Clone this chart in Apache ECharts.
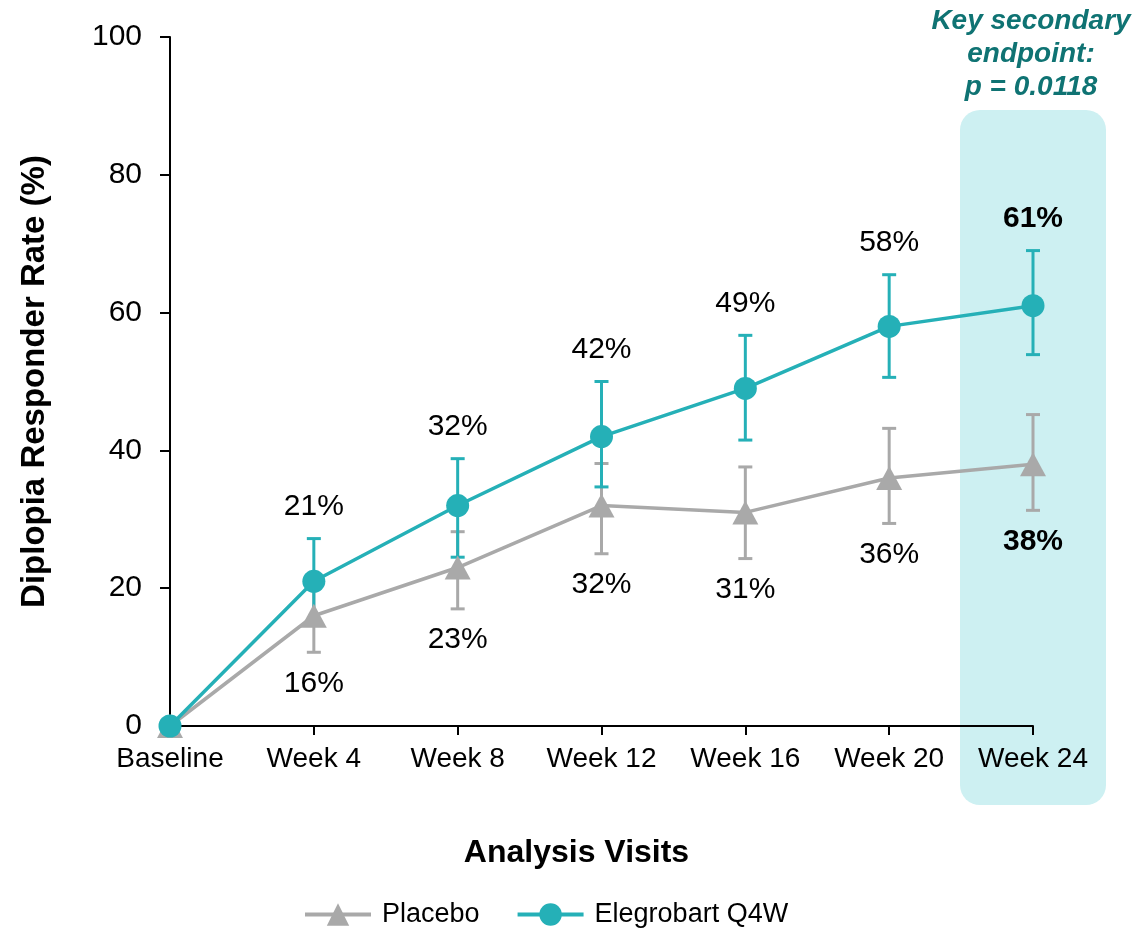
<!DOCTYPE html>
<html>
<head>
<meta charset="utf-8">
<script src="https://cdn.jsdelivr.net/npm/echarts@6/dist/echarts.min.js"></script>
<style>
  html, body { margin: 0; padding: 0; background: #fff; }
  #chart { width: 1136px; height: 934px; }
</style>
</head>
<body>
<div id="chart"></div>
<script>
// Visits and responder rates (%)
const visits = ['Baseline', 'Week 4', 'Week 8', 'Week 12', 'Week 16', 'Week 20', 'Week 24'];
const yTicks = [0, 20, 40, 60, 80, 100];

const placeboRate = [0, 16, 23, 32, 31, 36, 38];
const placeboLow  = [0, 10.7, 17.0, 25.0, 24.3, 29.4, 31.3];
const placeboHigh = [0, 20.7, 28.2, 38.1, 37.6, 43.2, 45.2];

const elegroRate = [0, 21, 32, 42, 49, 58, 61];
const elegroLow  = [0, 15.2, 24.5, 34.7, 41.5, 50.6, 53.9];
const elegroHigh = [0, 27.2, 38.8, 50.0, 56.7, 65.5, 69.0];

const keyNote = ['Key secondary', 'endpoint:', 'p = 0.0118'];

const FONT = '"Liberation Sans", Arial, sans-serif';
const TEAL = '#25b0b7';
const GREY = '#a9a9a9';
const HILITE = '#cdf0f2';
const NOTE = '#0f7373';

function errorData(low, high, rate) {
  return visits.map((v, i) => [i, low[i], high[i], rate[i]]).filter(d => d[0] > 0);
}

// Error bar with caps, plus the value label beyond the outer cap
function errorRenderer(color, labelAbove) {
  return function (params, api) {
    const idx = api.value(0);
    const lo = api.coord([idx, api.value(1)]);
    const hi = api.coord([idx, api.value(2)]);
    const cap = 7;
    const style = { stroke: color, lineWidth: 3 };
    const isLast = idx === visits.length - 1;
    const anchor = labelAbove ? hi[1] - 32 : lo[1] + 31;
    return {
      type: 'group',
      children: [
        { type: 'line', shape: { x1: lo[0], y1: lo[1], x2: hi[0], y2: hi[1] }, style },
        { type: 'line', shape: { x1: hi[0] - cap, y1: hi[1], x2: hi[0] + cap, y2: hi[1] }, style },
        { type: 'line', shape: { x1: lo[0] - cap, y1: lo[1], x2: lo[0] + cap, y2: lo[1] }, style },
        {
          type: 'text',
          style: {
            text: Math.round(api.value(3)) + '%',
            x: hi[0], y: anchor,
            align: 'center', verticalAlign: 'middle',
            fontSize: 30, fontFamily: FONT,
            fontWeight: isLast ? 'bold' : 'normal',
            fill: '#000'
          }
        }
      ]
    };
  };
}

const chart = echarts.init(document.getElementById('chart'), null, { renderer: 'canvas' });

chart.setOption({
  animation: false,
  backgroundColor: '#fff',
  grid: { left: 170, right: 103, top: 37, bottom: 208, containLabel: false },
  legend: {
    left: 298, top: 896,
    itemWidth: 66, itemHeight: 28, itemGap: 36,
    lineStyle: { width: 4 },
    textStyle: { fontSize: 27, fontFamily: FONT, color: '#000', padding: [0, 0, 0, 6] },
    data: ['Placebo', 'Elegrobart Q4W']
  },
  xAxis: {
    type: 'category',
    data: visits,
    boundaryGap: false,
    name: 'Analysis Visits',
    nameLocation: 'middle',
    nameGap: 111,
    nameTextStyle: {
      fontSize: 32, fontWeight: 'bold', fontFamily: FONT, color: '#000',
      padding: [0, 50, 0, 0]
    },
    axisLine: { lineStyle: { color: '#000', width: 2 } },
    axisTick: { show: true, alignWithLabel: true, interval: 0, length: 9, lineStyle: { color: '#000', width: 2 } },
    axisLabel: { interval: 0, hideOverlap: false, fontSize: 28, fontFamily: FONT, color: '#000', margin: 19 },
    splitLine: { show: false }
  },
  yAxis: {
    type: 'value',
    min: yTicks[0], max: yTicks[yTicks.length - 1], interval: 20,
    name: 'Diplopia Responder Rate (%)',
    nameLocation: 'middle',
    nameGap: 119,
    nameRotate: 90,
    nameTextStyle: { fontSize: 33, fontWeight: 'bold', fontFamily: FONT, color: '#000' },
    axisLine: { show: true, lineStyle: { color: '#000', width: 2 } },
    axisTick: { show: true, length: 10, lineStyle: { color: '#000', width: 2 } },
    axisLabel: { fontSize: 30, fontFamily: FONT, color: '#000', margin: 28 },
    splitLine: { show: false }
  },
  series: [
    {
      name: 'Placebo error',
      type: 'custom',
      renderItem: errorRenderer(GREY, false),
      data: errorData(placeboLow, placeboHigh, placeboRate),
      encode: { x: 0, y: [1, 2] },
      z: 1, silent: true
    },
    {
      name: 'Elegrobart error',
      type: 'custom',
      renderItem: errorRenderer(TEAL, true),
      data: errorData(elegroLow, elegroHigh, elegroRate),
      encode: { x: 0, y: [1, 2] },
      z: 3, silent: true
    },
    {
      name: 'Placebo',
      type: 'line',
      data: placeboRate,
      symbol: 'triangle',
      symbolSize: [26, 24],
      color: GREY,
      lineStyle: { color: GREY, width: 3.5 },
      itemStyle: { color: GREY },
      z: 4
    },
    {
      name: 'Elegrobart Q4W',
      type: 'line',
      data: elegroRate,
      symbol: 'circle',
      symbolSize: 23,
      color: TEAL,
      lineStyle: { color: TEAL, width: 3.5 },
      itemStyle: { color: TEAL },
      z: 5
    }
  ]
});

// Highlight column around the final visit, with its annotation above
const lastX = chart.convertToPixel({ xAxisIndex: 0 }, visits[visits.length - 1]);
chart.setOption({
  graphic: [
    {
      type: 'rect', z: -10, silent: true,
      shape: { x: lastX - 73, y: 110, width: 146, height: 695, r: 20 },
      style: { fill: HILITE }
    },
    {
      type: 'text', silent: true,
      style: {
        text: keyNote.join('\n'),
        x: lastX - 2, y: 5,
        align: 'center', verticalAlign: 'top',
        fontSize: 28, fontWeight: 'bold', fontStyle: 'italic',
        fontFamily: FONT, fill: NOTE, lineHeight: 33
      }
    }
  ]
});
</script>
</body>
</html>
